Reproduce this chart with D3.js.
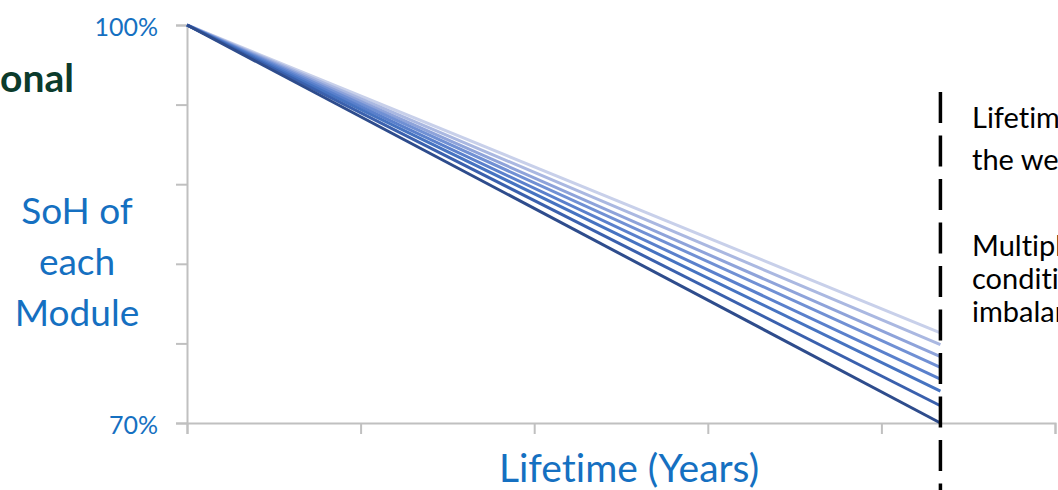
<!DOCTYPE html>
<html>
<head>
<meta charset="utf-8">
<script src="https://cdn.jsdelivr.net/npm/d3@7"></script>
<style>
  html, body { margin: 0; padding: 0; background: #fff; overflow: hidden; }
  svg { display: block; font-family: Lato, "Open Sans", sans-serif; font-variant-ligatures: none; }
</style>
</head>
<body>
<svg id="chart" width="1058" height="490"></svg>
<script>
// Module state-of-health over lifetime: every module starts at 100 %
// and fades at its own rate; the weakest one reaches 70 % first.
const yearTicks = [0, 1, 2, 3, 4, 5];
const sohTicks = [70, 76, 82, 88, 94, 100];
const sohTickLabels = ["70%", "", "", "", "", "100%"];
const startYear = 0;
const endYear = 4.34;
const startSoH = 100;
const moduleEndSoH = [76.8, 75.9, 75.0, 74.2, 73.3, 72.4, 71.3, 70.0];
const moduleColors = ["#c8d0ea", "#aab8e1", "#8ea3da", "#7090d4", "#5a80cc", "#4673c1", "#3a60ad", "#2e4c8c"];
const yTitleLines = ["SoH of", "each", "Module"];
const noteLines = [
  { t: "Lifetime is set by", y: 128 },
  { t: "the weakest module", y: 170 },
  { t: "Multiple operating", y: 256 },
  { t: "conditions cause", y: 289 },
  { t: "imbalance", y: 322 }
];

const svg = d3.select("#chart");
const blue = "#1570c1";
const axisGrey = "#c0c0c0";

const x = d3.scaleLinear().domain([0, 5]).range([187, 1055]);
const y = d3.scaleLinear().domain([70, 100]).range([423, 25]);

// Left-hand heading, partly outside the canvas
svg.append("text")
  .attr("x", 74).attr("y", 92)
  .attr("text-anchor", "end")
  .attr("font-size", 39).attr("font-weight", 700)
  .attr("fill", "#0b3b2c")
  .text("Conventional");

// Y axis
const yAxis = d3.axisLeft(y).tickValues(sohTicks).tickSize(11).tickFormat("");
const gy = svg.append("g").attr("transform", `translate(${x(0)},0)`).call(yAxis);
gy.selectAll("path.domain").attr("stroke", axisGrey).attr("stroke-width", 2);
gy.selectAll(".tick line").attr("stroke", axisGrey).attr("stroke-width", 2);

svg.selectAll("text.ylab")
  .data(sohTicks.map((v, i) => ({ v, t: sohTickLabels[i] })).filter(d => d.t))
  .join("text")
  .attr("class", "ylab")
  .attr("x", 158).attr("y", d => y(d.v) + 11)
  .attr("text-anchor", "end")
  .attr("font-size", 25)
  .attr("fill", blue)
  .text(d => d.t);

// X axis
const xAxis = d3.axisBottom(x).tickValues(yearTicks).tickSize(11).tickFormat("");
const gx = svg.append("g").attr("transform", `translate(0,${y(70)})`).call(xAxis);
gx.selectAll("path.domain").attr("stroke", axisGrey).attr("stroke-width", 2);
gx.selectAll(".tick line").attr("stroke", axisGrey).attr("stroke-width", 2);

// Axis titles
svg.append("text")
  .attr("x", 629).attr("y", 482)
  .attr("text-anchor", "middle")
  .attr("font-size", 39)
  .attr("fill", blue)
  .text("Lifetime (Years)");

svg.selectAll("text.ytitle")
  .data(yTitleLines)
  .join("text")
  .attr("class", "ytitle")
  .attr("x", 77).attr("y", (d, i) => 224 + i * 51)
  .attr("text-anchor", "middle")
  .attr("font-size", 37)
  .attr("fill", blue)
  .text(d => d);

// Degradation lines
const line = d3.line().x(d => x(d[0])).y(d => y(d[1]));
svg.append("g")
  .selectAll("path")
  .data(moduleEndSoH.map((v, i) => ({ v, c: moduleColors[i] })))
  .join("path")
  .attr("d", d => line([[startYear, startSoH], [endYear, d.v]]))
  .attr("fill", "none")
  .attr("stroke", d => d.c)
  .attr("stroke-width", 3);

// End-of-life marker at the weakest module's lifetime
svg.append("line")
  .attr("x1", x(endYear)).attr("x2", x(endYear))
  .attr("y1", 92).attr("y2", 490)
  .attr("stroke", "#000")
  .attr("stroke-width", 3.5)
  .attr("stroke-dasharray", "31 12.5");

// Notes beside the marker
svg.selectAll("text.note")
  .data(noteLines)
  .join("text")
  .attr("class", "note")
  .attr("x", 972).attr("y", d => d.y)
  .attr("font-size", 29)
  .attr("fill", "#000")
  .text(d => d.t);
</script>
</body>
</html>
